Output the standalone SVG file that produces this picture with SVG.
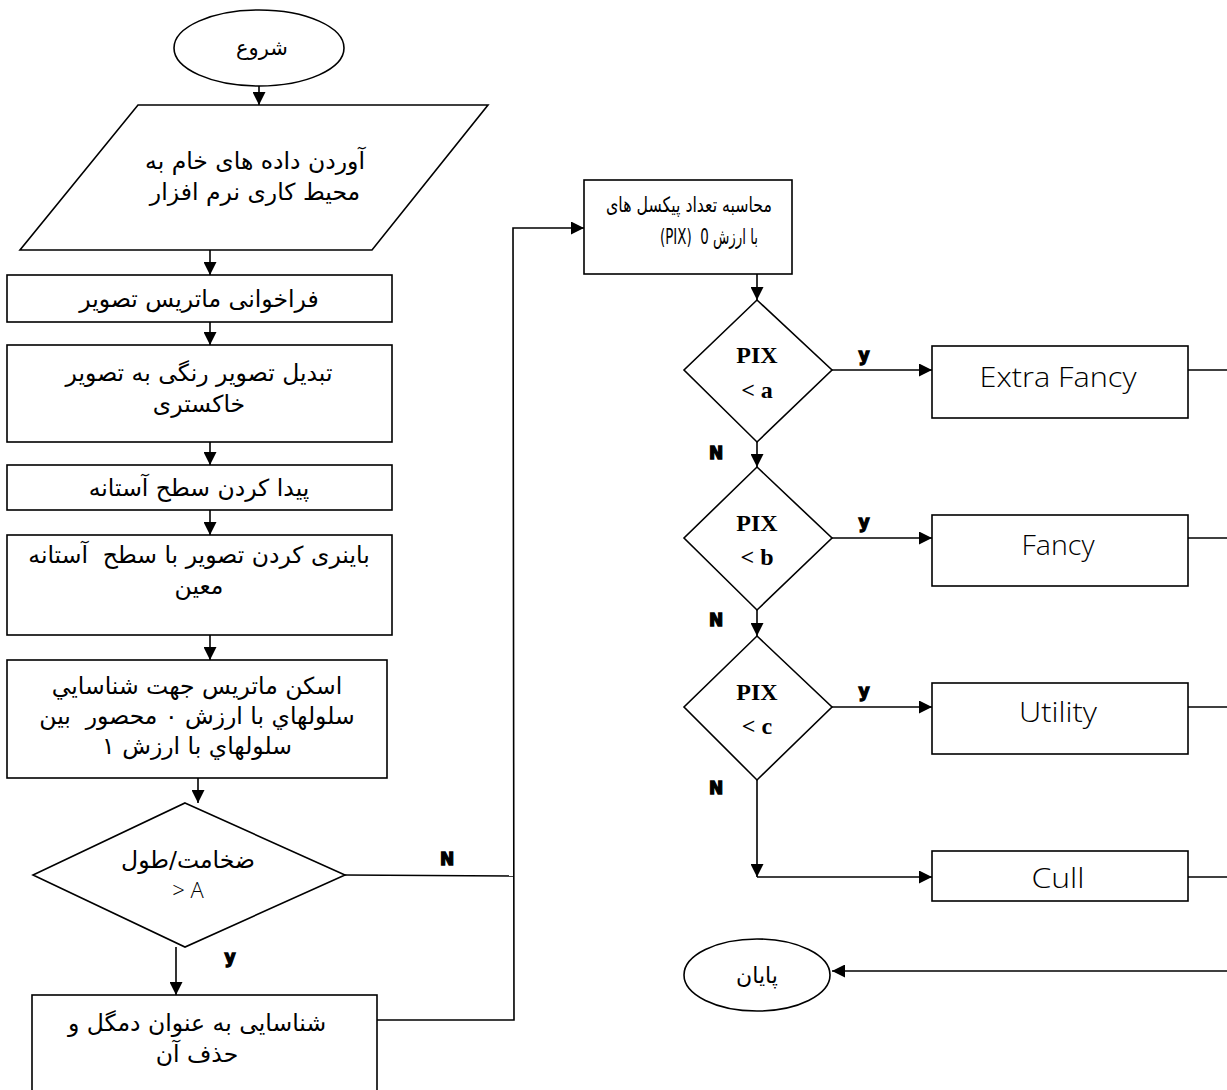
<svg xmlns="http://www.w3.org/2000/svg" width="1227" height="1090" viewBox="0 0 1227 1090">
<style>
.shape{fill:#fff;stroke:#000;stroke-width:1.6}
.fa{font-family:"DejaVu Sans","Noto Sans",sans-serif;font-size:23.5px;fill:#000;text-anchor:middle;direction:rtl;white-space:pre}
.fs{font-size:21px}
.en{font-family:"Open Sans","DejaVu Sans",sans-serif;font-size:27px;font-weight:300;fill:#000;text-anchor:middle}
.pix{font-family:"Liberation Serif",serif;font-size:24px;font-weight:bold;fill:#000;text-anchor:middle}
.lbl{font-family:"DejaVu Sans",sans-serif;font-size:17px;font-weight:bold;fill:#000;text-anchor:middle;stroke:#000;stroke-width:1.3}
.con{fill:none;stroke:#000;stroke-width:1.6}
</style>
<defs>
<marker id="arr" viewBox="0 0 10 10" refX="10" refY="5" markerUnits="userSpaceOnUse" markerWidth="13" markerHeight="13" orient="auto">
<path d="M0,0 L10,5 L0,10 z" fill="#000"/>
</marker>
</defs>
<rect width="1227" height="1090" fill="#fff"/>

<g id="connectors">
<line class="con" x1="259" y1="86" x2="259" y2="105" marker-end="url(#arr)"/>
<line class="con" x1="210" y1="250" x2="210" y2="275" marker-end="url(#arr)"/>
<line class="con" x1="210" y1="322" x2="210" y2="345" marker-end="url(#arr)"/>
<line class="con" x1="210" y1="442" x2="210" y2="465" marker-end="url(#arr)"/>
<line class="con" x1="210" y1="510" x2="210" y2="535" marker-end="url(#arr)"/>
<line class="con" x1="210" y1="635" x2="210" y2="660" marker-end="url(#arr)"/>
<line class="con" x1="198" y1="778" x2="198" y2="803" marker-end="url(#arr)"/>
<line class="con" x1="176" y1="947" x2="176" y2="995" marker-end="url(#arr)"/>
<polyline class="con" points="345,875 513,876"/>
<polyline class="con" points="377,1020 514,1020 513,228 584,228" marker-end="url(#arr)"/>
<line class="con" x1="757" y1="274" x2="757" y2="300" marker-end="url(#arr)"/>
<line class="con" x1="832" y1="370" x2="932" y2="370" marker-end="url(#arr)"/>
<line class="con" x1="757" y1="442" x2="757" y2="467" marker-end="url(#arr)"/>
<line class="con" x1="832" y1="538" x2="932" y2="538" marker-end="url(#arr)"/>
<line class="con" x1="757" y1="610" x2="757" y2="636" marker-end="url(#arr)"/>
<line class="con" x1="832" y1="707" x2="932" y2="707" marker-end="url(#arr)"/>
<line class="con" x1="757" y1="780" x2="757" y2="877" marker-end="url(#arr)"/>
<line class="con" x1="757" y1="877" x2="932" y2="877" marker-end="url(#arr)"/>
<line class="con" x1="1188" y1="370" x2="1227" y2="370"/>
<line class="con" x1="1188" y1="538" x2="1227" y2="538"/>
<line class="con" x1="1188" y1="707" x2="1227" y2="707"/>
<line class="con" x1="1188" y1="877" x2="1227" y2="877"/>
<line class="con" x1="1227" y1="971" x2="832" y2="971" marker-end="url(#arr)"/>
<text class="lbl" x="447" y="865">N</text>
<text class="lbl" x="230" y="963">y</text>
<text class="lbl" x="864" y="361">y</text>
<text class="lbl" x="864" y="528">y</text>
<text class="lbl" x="864" y="697">y</text>
<text class="lbl" x="716" y="459">N</text>
<text class="lbl" x="716" y="626">N</text>
<text class="lbl" x="716" y="794">N</text>
</g>

<g id="start">
<ellipse class="shape" cx="259" cy="48" rx="85" ry="38"/>
<text class="fa" x="262" y="55" style="font-size:21px">شروع</text>
</g>

<g id="input">
<polygon class="shape" points="138,105 488,105 372,250 20,250"/>
<text class="fa" x="255" y="169">آوردن داده های خام به</text>
<text class="fa" x="255" y="200">محیط کاری نرم افزار</text>
</g>

<g id="load">
<rect class="shape" x="7" y="275" width="385" height="47"/>
<text class="fa" x="199" y="307">فراخوانی ماتریس تصویر</text>
</g>

<g id="gray">
<rect class="shape" x="7" y="345" width="385" height="97"/>
<text class="fa" x="199" y="381">تبدیل تصویر رنگی به تصویر</text>
<text class="fa" x="199" y="412">خاکستری</text>
</g>

<g id="threshold">
<rect class="shape" x="7" y="465" width="385" height="45"/>
<text class="fa" x="199" y="496">پیدا کردن سطح آستانه</text>
</g>

<g id="binary">
<rect class="shape" x="7" y="535" width="385" height="100"/>
<text class="fa" x="199" y="563">باینری کردن تصویر با سطح  آستانه</text>
<text class="fa" x="199" y="594">معین</text>
</g>

<g id="scan">
<rect class="shape" x="7" y="660" width="380" height="118"/>
<text class="fa" x="197" y="694">اسکن ماتریس جهت شناسايي</text>
<text class="fa" x="197" y="724">سلولهاي با ارزش ٠ محصور  بين</text>
<text class="fa" x="197" y="754">سلولهاي با ارزش ١</text>
</g>

<g id="ratio">
<polygon class="shape" points="185,803 345,875 185,947 33,875"/>
<text class="fa" x="188" y="868">ضخامت/طول</text>
<text class="en" x="188" y="898" style="font-size:22px">&gt; A</text>
</g>

<g id="remove">
<rect class="shape" x="32" y="995" width="345" height="100"/>
<text class="fa" x="197" y="1031">شناسایی به عنوان دمگل و</text>
<text class="fa" x="197" y="1062">حذف آن</text>
</g>

<g id="count">
<rect class="shape" x="584" y="180" width="208" height="94"/>
<text class="fa fs" x="689" y="212" textLength="166" lengthAdjust="spacingAndGlyphs">محاسبه تعداد پیکسل های</text>
<text class="fa fs" x="709" y="244" textLength="98" lengthAdjust="spacingAndGlyphs">با ارزش 0  (PIX)</text>
</g>

<g id="d1">
<polygon class="shape" points="757,300 832,370 757,442 684,370"/>
<text class="pix" x="757" y="363">PIX</text>
<text class="pix" x="757" y="398">&lt; a</text>
</g>

<g id="d2">
<polygon class="shape" points="757,467 832,538 757,610 684,538"/>
<text class="pix" x="757" y="531">PIX</text>
<text class="pix" x="757" y="565">&lt; b</text>
</g>

<g id="d3">
<polygon class="shape" points="757,636 832,707 757,780 684,707"/>
<text class="pix" x="757" y="700">PIX</text>
<text class="pix" x="757" y="734">&lt; c</text>
</g>

<g id="extrafancy">
<rect class="shape" x="932" y="346" width="256" height="72"/>
<text class="en" x="1058" y="387" textLength="157" lengthAdjust="spacingAndGlyphs">Extra Fancy</text>
</g>

<g id="fancy">
<rect class="shape" x="932" y="515" width="256" height="71"/>
<text class="en" x="1058" y="555" textLength="73" lengthAdjust="spacingAndGlyphs">Fancy</text>
</g>

<g id="utility">
<rect class="shape" x="932" y="683" width="256" height="71"/>
<text class="en" x="1058" y="722" textLength="78" lengthAdjust="spacingAndGlyphs">Utility</text>
</g>

<g id="cull">
<rect class="shape" x="932" y="851" width="256" height="50"/>
<text class="en" x="1058" y="888" textLength="53" lengthAdjust="spacingAndGlyphs">Cull</text>
</g>

<g id="end">
<ellipse class="shape" cx="757" cy="975" rx="73" ry="36"/>
<text class="fa" x="757" y="983" style="font-size:22px">پایان</text>
</g>
</svg>
